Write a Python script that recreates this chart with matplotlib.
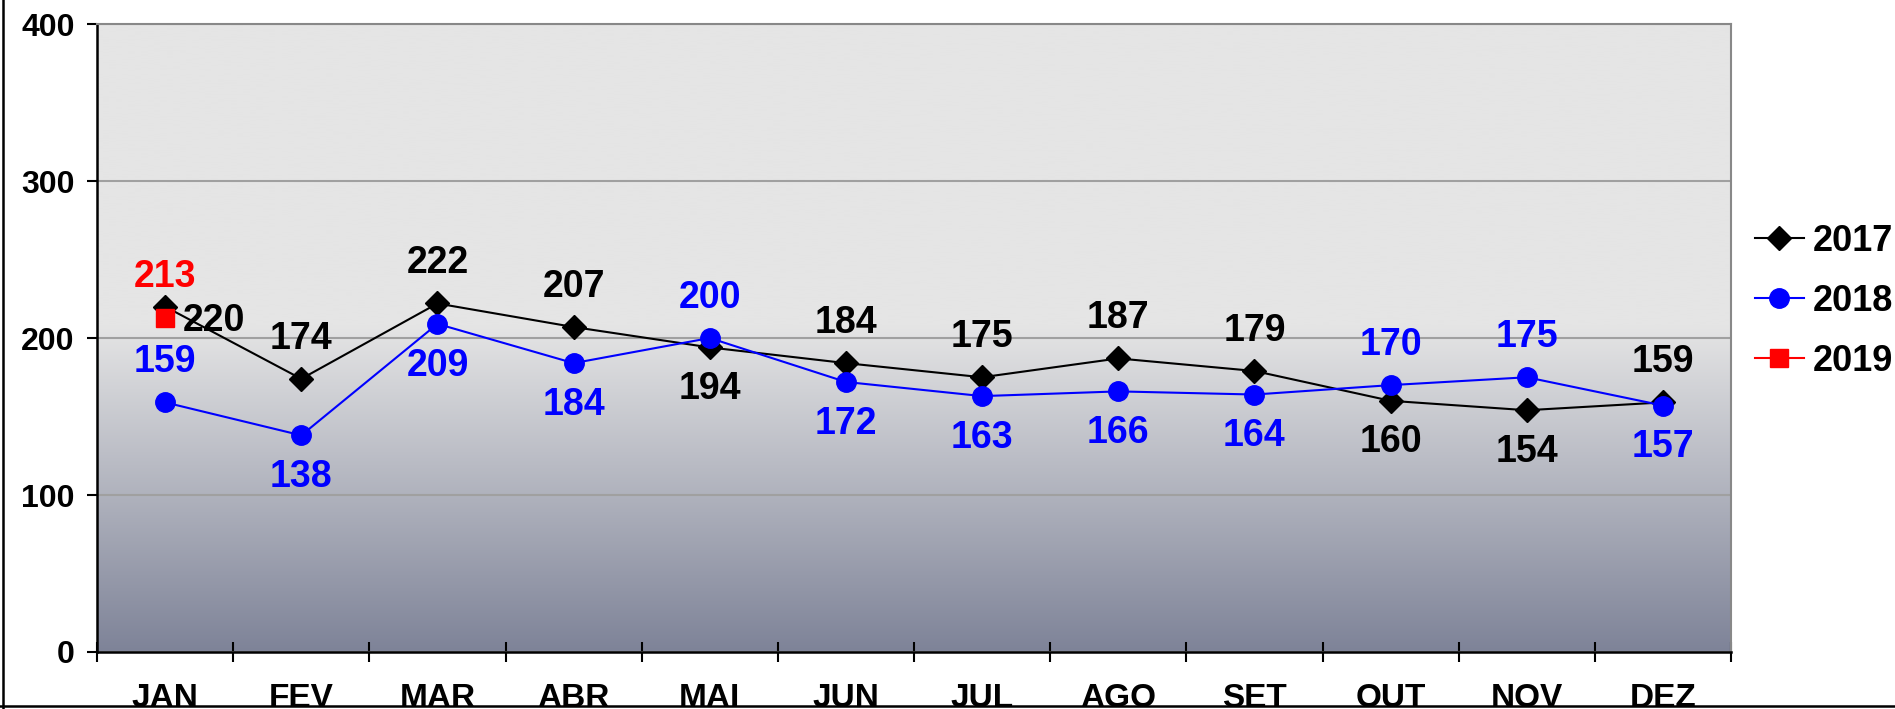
import matplotlib
matplotlib.use("Agg")
import matplotlib.pyplot as plt
import numpy as np
from matplotlib.lines import Line2D

months = ["JAN", "FEV", "MAR", "ABR", "MAI", "JUN", "JUL", "AGO", "SET", "OUT", "NOV", "DEZ"]
values_2017 = [220, 174, 222, 207, 194, 184, 175, 187, 179, 160, 154, 159]
values_2018 = [159, 138, 209, 184, 200, 172, 163, 166, 164, 170, 175, 157]
values_2019 = [213]

# where each data label sits relative to its point
place_2017 = ["right", "up", "up", "up", "down", "up", "up", "up", "up", "down", "down", "up"]
place_2018 = ["up", "down", "down", "down", "up", "down", "down", "down", "down", "up", "up", "down"]

plt.rcParams['font.family'] = ['Liberation Sans', 'DejaVu Sans']
plt.rcParams['font.weight'] = 'bold'

fig = plt.figure(figsize=(18.95, 7.09), dpi=100)
ax = fig.add_axes([0.0512, 0.0804, 0.8623, 0.8857])

x = np.arange(len(months))

# background gradient: flat light gray on top half, darkening to slate at bottom
top = np.array([0xe5, 0xe5, 0xe5]) / 255
bot = np.array([0x7e, 0x83, 0x98]) / 255
f = np.linspace(0, 1, 400)
t = np.clip(f / 0.52, 0, 1)
grad = bot[None, :] * (1 - t[:, None]) + top[None, :] * t[:, None]
ax.imshow(grad[:, None, :], extent=[-0.5, len(months) - 0.5, 0, 400], origin='lower',
          aspect='auto', zorder=0, interpolation='bilinear')

ax.set_xlim(-0.5, len(months) - 0.5)
ax.set_ylim(0, 400)
ax.set_yticks([0, 100, 200, 300, 400])
ax.yaxis.grid(True, color='#a0a0a0', linewidth=1.5, zorder=1)
ax.set_axisbelow(True)

ax.plot(x, values_2017, color='black', linewidth=1.5, marker='D', markersize=12,
        label='2017', zorder=3)
ax.plot(x, values_2018, color='#0000ff', linewidth=1.5, marker='o', markersize=14,
        label='2018', zorder=4)
ax.plot(x[:len(values_2019)], values_2019, color='#ff0000', linewidth=1.5, marker='s',
        markersize=13, label='2019', zorder=5)

def put_labels(vals, places, color):
    for xi, v, p in zip(x, vals, places):
        if p == "up":
            off = (0, 29)
        elif p == "down":
            off = (0, -30)
        else:
            off = (35, -10)
        ax.annotate(str(v), (xi, v), xytext=off, textcoords='offset points',
                    ha='center', va='center', fontsize=27, fontweight='bold',
                    color=color, zorder=6)

put_labels(values_2017, place_2017, 'black')
put_labels(values_2018, place_2018, '#0000ff')
put_labels(values_2019, ["up"], '#ff0000')

ax.set_xticks(x)
ax.set_xticklabels(months)
ax.set_xticks(np.arange(len(months) + 1) - 0.5, minor=True)
ax.tick_params(axis='x', which='major', length=0, pad=22, labelsize=24)
ax.tick_params(axis='x', which='minor', direction='inout', length=14, width=1.5)
ax.tick_params(axis='y', direction='out', length=7, width=1.5, pad=9, labelsize=23)

for s in ['left', 'bottom']:
    ax.spines[s].set_color('black')
    ax.spines[s].set_linewidth(1.8)
ax.spines['right'].set_color('#888888')
ax.spines['right'].set_linewidth(1.5)
ax.spines['top'].set_color('#888888')
ax.spines['top'].set_linewidth(1.5)

leg = fig.legend(loc='center left', bbox_to_anchor=(0.926, 0.575), frameon=False,
                 fontsize=26, handlelength=1.35, handletextpad=0.25, labelspacing=0.7,
                 borderpad=0, borderaxespad=0)
for txt in leg.get_texts():
    txt.set_fontweight('bold')

# outer chart frame (left and bottom edges visible)
fig.add_artist(Line2D([0.0016, 0.0016], [0, 1], transform=fig.transFigure,
                      color='black', linewidth=1.8))
fig.add_artist(Line2D([0, 1], [0.004, 0.004], transform=fig.transFigure,
                      color='black', linewidth=1.8))

fig.savefig('out.png', dpi=100)
